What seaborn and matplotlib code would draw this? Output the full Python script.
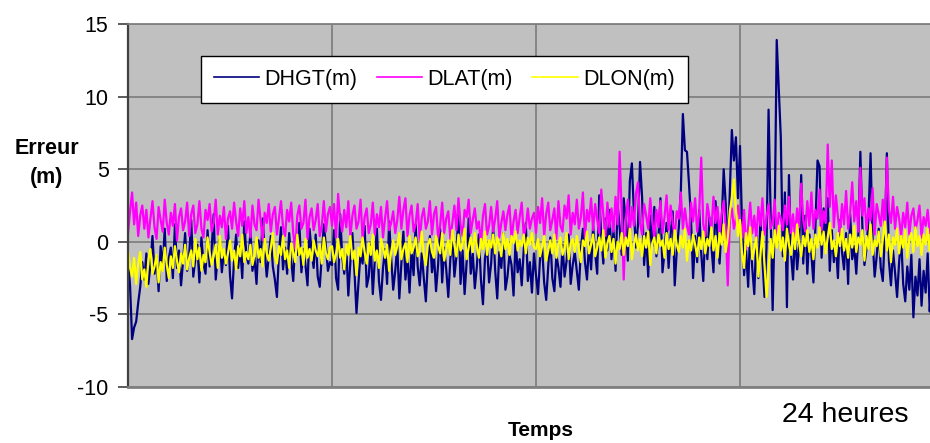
import numpy as np
import pandas as pd
import matplotlib
matplotlib.use("Agg")
import matplotlib.pyplot as plt
import seaborn as sns

dhgt = [
    -1.2, -3.0, -6.7, -5.9, -5.5, -4.2, -3.1, -1.4, -2.6, -0.8,
    -2.9, -1.6, 0.4, -2.2, -1.0, -3.4, -0.3, -1.9, 0.9, -2.7,
    -1.1, -0.4, -2.5, 1.2, -1.8, -0.6, -3.0, -1.3, 0.6, -2.0,
    -0.9, 1.5, -2.4, -1.2, -0.2, -2.8, 0.3, -1.5, -2.2, 0.8,
    -1.7, -0.5, 1.9, -2.6, -1.0, 0.2, -2.1, -0.7, -1.6, 1.1,
    -2.3, -3.9, -1.2, 0.5, -1.8, -0.3, -2.5, 1.4, -0.9, -1.5,
    0.7, -2.0, -1.1, -2.9, 0.1, -1.4, 1.6, -0.6, -2.4, -1.0,
    0.4, -1.7, -2.6, -3.8, -0.8, 1.0, -1.9, -0.4, -2.2, 0.6,
    -1.3, -2.7, 0.2, -0.9, 1.3, -2.1, -0.5, -1.6, -3.0, 0.9,
    -0.7, -1.8, 0.5, -2.4, -3.1, -1.0, 1.2, -0.3, -2.0, -1.4,
    # 6 h
    -1.6, 0.8, -2.5, -3.3, 1.9, -1.0, -2.2, -0.4, -3.7, -1.4,
    0.6, -2.0, -4.9, -2.8, -0.7, -1.5, 1.1, -3.1, -2.4, -0.2,
    -3.6, -1.2, 0.9, -2.7, -4.0, -1.8, -0.5, -2.9, 1.4, -1.1,
    -3.3, -2.0, -0.3, -3.9, -1.5, 0.7, -2.6, -1.0, -3.5, -0.6,
    -2.3, 1.2, -1.7, -3.0, -0.8, -2.5, -4.1, -1.3, 0.4, -2.1,
    -0.9, -3.4, -1.6, 0.9, -2.8, -0.4, -1.9, -3.8, -1.2, 0.3,
    -2.4, -1.0, 2.4, -2.9, -0.6, -3.6, -1.4, 1.6, -2.2, -0.8,
    -3.2, -1.7, 0.5, -2.6, -4.3, -1.1, -0.3, -2.8, -1.5, 1.0,
    -2.0, -3.9, -0.7, -1.8, 0.6, -3.3, -2.4, -0.9, -1.6, -3.7,
    0.2, -2.1, -1.2, -3.0, -0.5, 1.3, -2.7, -1.4, -3.5, -0.8,
    # 12 h
    -2.3, -3.6, -1.1, -0.4, -2.8, -4.0, -1.7, 0.3, -2.5, -3.4,
    -0.9, -1.8, -3.1, -0.2, -2.4, -1.3, 0.5, -2.9, -1.6, -0.7,
    -2.0, -3.3, -0.5, 0.9, -1.4, -2.6, -0.1, -1.9, 1.1, -0.8,
    -2.2, 3.2, 0.4, -1.5, 1.6, -0.6, 2.2, -1.2, 0.8, -2.0,
    2.6, 1.0, -0.9, 3.0, 1.4, -1.3, 4.2, 5.4, 2.0, -0.4,
    1.2, 5.5, 3.1, -1.6, 0.6, -2.4, 1.8, -0.3, 2.4, -1.0,
    0.2, 3.0, -2.1, -0.7, 1.3, -1.8, 0.5, 2.1, -3.0, -0.6,
    1.0, 3.5, 8.8, 6.3, 6.2, 4.0, 1.5, -2.5, 0.4, -1.4,
    2.2, -0.8, -2.7, 0.9, -1.2, 1.7, -0.3, -2.1, 2.8, 0.3,
    -1.5, 1.2, 5.0, 2.6, -0.9, 3.4, 7.7, 5.6, 7.2, 3.0,
    # 18 h
    6.6, 1.2, -2.3, -0.6, -3.1, 0.9, -1.8, -3.6, 0.4, -2.5,
    1.6, -1.2, -3.8, -0.4, 9.1, 2.0, -4.7, 1.4, 13.9, 10.5,
    7.2, -1.0, 3.4, -4.5, 4.6, -0.8, -2.6, 0.7, -1.9, -0.3,
    4.6, -1.5, 1.8, -2.2, 0.5, -0.9, -2.8, 1.2, 5.6, 5.2,
    -1.1, 2.3, -0.4, 3.0, -2.0, 0.8, -1.4, -0.2, -2.5, 1.5,
    -0.7, -1.9, 0.6, -2.9, 1.9, -1.2, -0.3, -2.2, 0.4, 6.2,
    1.0, -1.6, -0.5, 1.7, 6.1, 0.2, -2.4, -1.0, 0.9, -1.8,
    -2.7, 0.5, 6.1, -1.3, -3.0, -0.6, -2.1, -3.8, -1.4, 0.3,
    -2.9, -4.1, -1.7, -3.3, -0.9, -5.2, -2.4, -3.7, -1.2, -4.4,
    -2.0, -3.5, -0.8, -4.8, -2.6, -3.2, -1.5, -4.0, -2.8, -3.4,
]
dlat = [
    0.6, 2.1, 3.4, 1.2, 2.7, 0.4, 1.8, 2.5, 0.9, 2.2,
    0.3, 1.6, 2.8, 1.0, 0.2, 2.4, 1.5, 0.7, 2.9, 1.3,
    0.5, 2.0, 1.1, 2.6, 0.1, 1.7, 2.3, 0.8, 1.4, 2.7,
    0.4, 1.9, 2.5, 0.6, 1.2, 2.8, 0.9, 0.3, 2.2, 1.5,
    2.6, 0.7, 1.3, 2.9, 0.5, 1.8, 1.0, 2.4, 0.2, 1.6,
    2.1, 0.9, 2.7, 1.4, 0.4, 2.3, 1.1, 2.8, 0.6, 1.7,
    0.3, 2.5, 1.2, 0.8, 2.9, 1.5, 0.1, 2.0, 1.3, 2.6,
    0.7, 1.9, 2.4, 0.5, 1.6, 2.8, 1.0, 0.4, 2.2, 1.4,
    2.7, 0.6, -0.5, 1.8, 2.5, 0.9, 1.3, 2.9, 0.2, 1.7,
    2.3, 0.8, 1.5, 2.6, 0.4, 1.1, 2.8, 0.7, 1.9, 2.4,
    # 6 h
    1.1, 2.6, 0.3, 3.3, 1.5, 0.7, 2.2, 1.0, 2.8, 0.4,
    1.8, 2.5, 0.9, 1.4, 2.9, 0.2, 1.7, 2.3, 0.6, 1.2,
    2.7, 0.5, 1.9, 1.0, 2.4, 0.3, 1.6, 2.8, 0.8, 1.3,
    2.1, 0.6, 1.5, 3.1, 0.9, 2.2, 3.0, 0.4, 1.8, 2.5,
    0.7, 1.2, 2.6, 0.1, 1.7, 2.3, 0.9, 1.4, 2.8, 0.5,
    1.9, 2.4, 0.3, 1.1, 2.7, 0.6, 1.6, 2.1, 0.2, 1.3,
    2.5, 0.8, 3.0, 1.2, 0.4, 2.2, 1.7, 2.9, 0.6, 1.5,
    2.3, 0.9, 1.4, -0.2, 1.8, 2.6, 0.5, 1.1, 2.4, 0.7,
    1.6, 2.8, 0.3, 1.3, 2.1, 0.8, 1.9, 2.5, 0.2, 1.4,
    2.2, 0.6, 1.7, 2.7, 0.4, 1.0, 2.3, 0.9, 1.6, 2.0,
    # 12 h
    0.6, 2.4, 1.3, 3.0, 0.4, 1.9, 2.7, 0.8, 1.5, 2.3,
    0.2, 2.8, 1.1, 0.7, 2.5, 1.6, 3.2, 0.5, 2.0, 1.2,
    2.9, 0.9, 1.7, 3.4, 0.3, 2.2, 1.4, 3.0, 0.8, 2.6,
    1.5, 0.6, 3.6, 1.9, 0.4, 2.7, 1.0, 2.3, 0.7, 3.1,
    1.2, 6.2, 2.0, -2.6, 1.5, 2.9, 0.6, 2.4, 1.1, 3.3,
    4.1, 1.3, 0.5, 2.6, 1.8, 0.9, 3.0, 1.4, 0.3, 2.2,
    1.0, 2.8, 0.6, 1.7, 3.2, 0.8, 2.5, 1.3, 0.4, 2.1,
    1.6, 3.4, 0.9, 2.3, 1.1, 0.5, 2.7, 1.4, 3.0, 0.7,
    2.0, 5.8, 1.2, 0.4, 2.6, 1.7, 0.8, 3.1, 1.3, 2.4,
    0.6, 1.9, 2.8, 1.0, -3.0, 1.5, 2.3, 0.9, 1.6, 2.5,
    # 18 h
    1.4, 0.3, 2.2, -0.5, 1.0, 2.7, 0.6, 1.8, 0.2, 2.4,
    1.1, 3.0, 0.5, 1.7, 2.6, 0.9, 1.3, 2.9, 0.4, 2.0,
    1.6, 0.8, 2.5, 1.2, 3.1, 0.6, 1.9, 0.3, 2.3, 1.0,
    4.0, 1.5, 0.7, 2.8, 1.1, 3.4, 0.9, 2.2, 1.6, 3.6,
    0.8, 2.1, 1.3, 6.7, 2.4, 5.6, 1.0, 3.2, 1.7, 0.6,
    2.6, 1.2, 3.5, 0.9, 2.0, 4.1, 1.4, 2.8, 0.7, 5.1,
    1.8, 3.0, 0.8, 2.3, 1.5, 3.7, 0.5, 2.6, 1.9, 1.1,
    2.9, 0.6, 5.8, 2.2, 1.3, 3.1, 0.9, 2.4, 1.6, 0.4,
    2.0, 1.0, 2.7, 0.5, 1.8, 2.3, 0.8, 1.5, 2.5, 0.3,
    1.7, 1.1, 2.2, 0.6, 1.4, 2.0, 0.9, 1.6, 0.4, 1.9,
]
dlon = [
    -0.6, -1.8, -2.4, -1.1, -2.9, -1.5, -0.7, -2.6, -1.9, -3.1,
    -1.2, -0.5, -2.2, -1.7, -0.9, -2.8, -1.4, -2.0, -0.4, -1.6,
    -2.5, -1.0, -1.8, -0.3, -1.3, -2.1, -0.8, -1.5, -0.2, -1.9,
    -1.1, -0.6, -1.7, 0.2, -1.2, -0.4, -2.0, -0.9, -1.4, 0.3,
    -0.7, -1.6, -1.0, -0.2, -1.8, 0.4, -1.1, -0.5, -1.5, -0.8,
    0.1, -1.3, -0.6, -1.9, -0.3, -1.0, 0.5, -1.4, -0.7, -1.2,
    -0.2, -1.6, -0.9, 0.3, -1.1, -0.5, -1.7, 0.2, -0.8, -1.3,
    -0.4, 0.6, -1.0, -1.5, -0.3, -0.9, 0.4, -1.2, -0.6, -1.8,
    -0.1, -0.7, -1.4, 0.5, -0.9, -0.4, -1.6, 0.2, -1.1, -0.5,
    -1.3, 0.1, -0.6, -1.0, -0.2, -1.5, 0.3, -0.8, -1.2, -0.4,
    # 6 h
    -0.3, -1.4, -0.8, 0.2, -1.1, -0.5, -1.9, -0.2, -0.9, 0.4,
    -1.2, -0.6, -2.3, -0.4, -1.0, 0.3, -0.7, -1.5, -0.1, -0.9,
    0.5, -1.3, -0.6, -1.8, 0.2, -0.4, -1.1, -0.2, -2.0, -0.7,
    0.1, -0.9, -0.3, 0.6, -1.2, -0.5, -0.1, -1.4, 0.4, -0.8,
    -0.4, 0.3, -1.0, -0.6, 0.7, -0.9, -1.6, -0.2, 0.2, -0.7,
    -1.1, 0.4, -0.3, -0.8, 0.6, -1.3, -0.5, 0.1, -0.9, 0.8,
    -0.2, -1.0, 0.5, -0.6, -0.1, 0.9, -1.2, -0.4, 0.3, -0.7,
    0.6, -0.3, -1.1, 0.2, -0.5, 0.7, -0.9, 0.1, -0.4, 0.5,
    -0.8, 0.3, -0.2, -1.0, 0.6, -0.5, 0.2, -0.9, 0.4, -0.1,
    0.7, -0.6, 0.1, -0.3, 0.5, -0.8, 0.3, -0.2, 0.6, -0.4,
    # 12 h
    -0.5, 0.2, -1.0, -0.3, 0.4, -1.3, -0.6, 0.1, -0.8, 0.5,
    -1.1, -0.2, 0.3, -0.9, -0.4, 0.6, -1.2, -0.1, 0.2, -0.7,
    0.4, -0.5, -1.4, 0.1, -0.3, 0.7, -0.8, -0.2, 0.5, -1.0,
    -0.4, 0.3, -0.6, 0.8, -1.1, -0.1, 0.4, -0.7, 0.2, -1.5,
    0.0, -0.5, 0.6, -0.9, 0.3, -0.3, 0.9, -1.2, -0.2, 0.5,
    -0.6, 0.2, -1.0, 0.4, -0.4, 0.7, -1.6, -0.1, 0.3, -0.8,
    0.5, -0.3, 0.1, -1.1, 0.6, -0.5, 0.2, -0.9, 0.8, -0.2,
    -0.7, 0.4, -0.4, 0.9, -1.3, 0.1, -0.6, 0.5, -0.2, -1.0,
    0.3, -0.5, 0.7, -0.8, 0.2, -0.3, 1.0, -0.6, 0.4, -1.1,
    0.6, -0.2, 1.2, -0.7, 0.3, 2.1, 3.0, 4.3, 2.2, 0.4,
    # 18 h
    1.5, -0.8, -1.8, 0.6, -0.3, 1.0, -1.2, -0.5, 0.3, -2.4,
    -0.9, 0.7, -1.6, -3.8, -2.0, 0.2, -1.1, 0.8, -0.4, 1.1,
    -0.6, 0.3, -1.3, 0.9, -0.2, -0.9, 0.6, -0.5, 1.2, -0.1,
    -1.0, 0.4, -0.3, 0.8, -0.7, 0.2, -1.2, 0.5, -0.4, 1.0,
    -0.2, 0.7, -0.8, 0.3, 1.3, -0.5, 0.1, -1.0, 0.6, -0.3,
    0.9, -0.6, 0.2, -1.1, 0.5, -0.4, 1.1, -0.7, 0.3, -0.2,
    0.8, -1.3, 0.4, -0.5, 1.2, -0.9, 0.1, -0.3, 0.7, -1.0,
    0.2, 1.4, -0.6, 0.5, -1.4, 0.3, -0.2, 0.9, -0.8, 0.4,
    -0.4, 0.8, -1.1, 0.2, 0.6, -0.7, 1.0, -0.3, 0.4, -0.9,
    0.5, -0.2, 0.9, -0.6, 0.3, -1.2, 0.7, -0.4, 0.2, -0.5,
]
series_names = ['DHGT(m)', 'DLAT(m)', 'DLON(m)']
series_colors = ['#000080', '#FF00FF', '#FFFF00']
y_ticks = [-10, -5, 0, 5, 10, 15]
hours = np.arange(len(dhgt)) * 24 / len(dhgt)

df = pd.concat([
    pd.DataFrame({'t': hours, 'err': vals, 'serie': name})
    for name, vals in zip(series_names, [dhgt, dlat, dlon])
])

plt.rcParams['font.family'] = ['Liberation Sans', 'DejaVu Sans']
plt.rcParams['axes.unicode_minus'] = False

fig = plt.figure(figsize=(9.3, 4.43), dpi=100)
# plot area runs past the right edge like the original screenshot
ax = fig.add_axes([128 / 930, 56 / 443, 816 / 930, 363 / 443])
ax.set_facecolor('#C0C0C0')

sns.lineplot(data=df, x='t', y='err', hue='serie', hue_order=series_names,
             palette=dict(zip(series_names, series_colors)), linewidth=1.6,
             ax=ax, legend=True)

ax.set_xlim(0, 24)
ax.set_ylim(-10, 15)
ax.set_xticks([0, 6, 12, 18, 24])
ax.set_xticklabels([])
ax.set_yticks(y_ticks)
ax.set_yticklabels([str(v) for v in y_ticks], fontsize=15.5)
ax.tick_params(axis='x', length=0)
ax.tick_params(axis='y', length=7, width=1.2, color='#404040', pad=7)
ax.grid(True, color='#808080', linewidth=1.3)
ax.set_axisbelow(True)
ax.set_xlabel('')
ax.set_ylabel('')
ax.spines['left'].set_color('#404040')
ax.spines['left'].set_linewidth(1.6)
ax.spines['bottom'].set_color('#808080')
ax.spines['bottom'].set_linewidth(2)
ax.spines['top'].set_color('#808080')
ax.spines['top'].set_linewidth(1.3)
ax.spines['right'].set_visible(False)

handles, labels = ax.get_legend_handles_labels()
ax.legend(handles, labels, ncol=3, loc='upper left',
          bbox_to_anchor=(201 / 930, 1 - 56 / 443), bbox_transform=fig.transFigure,
          fontsize=15.5, frameon=True, fancybox=False, framealpha=1,
          edgecolor='black', handlelength=2.1, handletextpad=0.25,
          columnspacing=0.9, borderpad=0.6, borderaxespad=0)
ax.get_legend().get_frame().set_linewidth(1.0)
for line in ax.get_legend().get_lines():
    line.set_linewidth(1.2)

fig.text(47 / 930, 1 - 148 / 443, 'Erreur', ha='center', va='center',
         fontsize=15.5, fontweight='bold')
fig.text(47 / 930, 1 - 178 / 443, '(m)', ha='center', va='center',
         fontsize=15.5, fontweight='bold')
fig.text(541 / 930, 1 - 430 / 443, 'Temps', ha='center', va='center',
         fontsize=15, fontweight='bold')
fig.text(845 / 930, 1 - 415 / 443, '24 heures', ha='center', va='center',
         fontsize=20.5)

fig.savefig('out.png', dpi=100)
